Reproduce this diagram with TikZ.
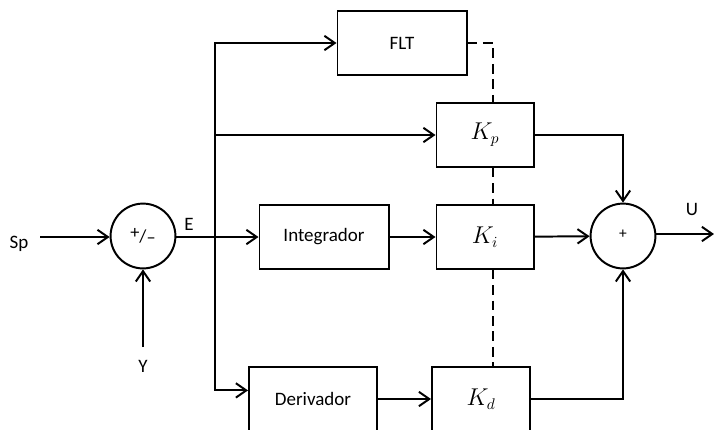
\documentclass[tikz,border=0pt]{standalone}
\usepackage{fontspec}
\setmainfont{Carlito}
\usetikzlibrary{arrows.meta}

\begin{document}
\begin{tikzpicture}[x=0.025cm, y=-0.025cm, line width=1.4pt,
		font=\fontsize{13.5}{16}\selectfont,
		blk/.style={draw, minimum height=1.58cm, inner sep=0pt},
		gain/.style={blk, font=\fontsize{16}{18}\selectfont},
		sum/.style={draw, circle, minimum size=1.62cm, inner sep=0pt, font=\fontsize{13}{15}\selectfont},
		arr/.style={-{Straight Barb[length=2.6mm,width=3.6mm]}},
		link/.style={dash pattern=on 7pt off 4pt}]
				% Frame
				\useasboundingbox (0,0) rectangle (714,429);
				% Summing junctions
				\node[sum] (sumE) at (143,236) {\raisebox{3pt}{+}/\raisebox{-1pt}{\textendash}};
				\node[sum, font=\fontsize{11}{13}\selectfont] (sumU) at (623,236) {\raisebox{2pt}{+}};
				% Blocks
				\node[blk, minimum width=3.225cm] (flt) at (402,43) {FLT};
				\node[gain, minimum width=2.425cm] (kp) at (485,135) {$K_p$};
				\node[blk, minimum width=3.225cm] (integ) at (324,237) {Integrador};
				\node[gain, minimum width=2.425cm] (ki) at (485,237) {$K_i$};
				\node[blk, minimum width=3.2cm] (deriv) at (313,399) {Derivador};
				\node[gain, minimum width=2.45cm] (kd) at (481,399) {$K_d$};
				% Signal labels
				\node (sp) at (19,244) {Sp};
				\node (y) at (143,366) {Y};
				\node (e) at (189,224) {E};
				\node (u) at (692,209) {U};
				\coordinate (spin) at (40,237);
				\coordinate (yin) at (143,347);
				\coordinate (br) at (215,237);
				\coordinate (uout) at (714,234);
				\coordinate (dl) at (493,0);
				% Inputs
				\draw[arr] (spin) -- (spin -| sumE.west);
				\draw[arr] (yin) -- (sumE.south);
				\draw[arr] (sumE.east |- integ.west) -- (integ.west);
				% Branches
				\draw[arr] (br) |- (flt.west);
				\draw[arr] (br) |- (kp.west);
				\draw[arr] (br) |- ([shift={(0,24)}]deriv.north west);
				\draw[arr] (integ) -- (ki);
				\draw[arr] (deriv) -- (kd);
				% Gains to output sum
				\draw[arr] (kp.east) -| (sumU.north);
				\draw[arr] (ki) -- (sumU);
				\draw[arr] (kd.east) -| (sumU.south);
				\draw[arr] (sumU.east |- uout) -- (uout);
				% Dashed link
				\draw[link] (flt.east) -| (dl |- kp.north);
				\foreach \a/\b in {kp/ki, ki/kd}
					\draw[link] (dl |- \a.south) -- (dl |- \b.north);
			\end{tikzpicture}
\end{document}
